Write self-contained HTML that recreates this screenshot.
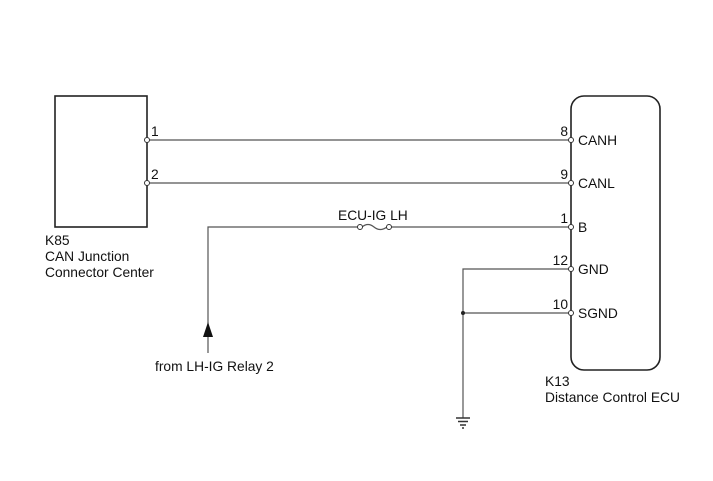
<!DOCTYPE html>
<html><head><style>body{margin:0;background:#fff}svg{display:block}text{font-family:"Liberation Sans",Arial,sans-serif;font-size:13.8px;fill:#111}</style></head><body>
<svg width="713" height="481" viewBox="0 0 713 481" xmlns="http://www.w3.org/2000/svg">
<g fill="none" stroke="#222" stroke-width="1.6">
<rect x="55" y="96" width="92" height="131"/>
<rect x="571" y="96" width="89" height="274" rx="13"/>
</g>
<g stroke="#555" stroke-width="1.2" fill="none">
<line x1="147" y1="140" x2="571" y2="140"/>
<line x1="147" y1="183" x2="571" y2="183"/>
<polyline points="208,353 208,227 359,227"/>
<line x1="390" y1="227" x2="571" y2="227"/>
<path d="M362,227 q6,-5 12,0 t13,0"/>
<polyline points="571,269 463,269 463,418"/>
<line x1="463" y1="313" x2="571" y2="313"/>
</g>
<g stroke="#333" stroke-width="1.5">
<line x1="456" y1="418" x2="470" y2="418"/>
<line x1="458" y1="421.5" x2="468" y2="421.5"/>
<line x1="460" y1="425" x2="466" y2="425"/>
<line x1="462" y1="428" x2="464" y2="428"/>
</g>
<polygon points="208,322 203,337 213,337" fill="#111"/>
<circle cx="463" cy="313" r="2" fill="#222"/>
<g fill="#fff" stroke="#333" stroke-width="1">
<circle cx="147" cy="140" r="2.5"/><circle cx="147" cy="183" r="2.5"/>
<circle cx="571" cy="140" r="2.5"/><circle cx="571" cy="183" r="2.5"/>
<circle cx="571" cy="227" r="2.5"/><circle cx="571" cy="269" r="2.5"/>
<circle cx="571" cy="313" r="2.5"/>
<circle cx="360" cy="227" r="2.5"/><circle cx="389" cy="227" r="2.5"/>
</g>
<text x="151" y="136">1</text><text x="151" y="179">2</text>
<g text-anchor="end"><text x="568" y="136">8</text><text x="568" y="179">9</text><text x="568" y="223">1</text><text x="568" y="265">12</text><text x="568" y="309">10</text></g>
<text x="578" y="145">CANH</text><text x="578" y="188">CANL</text><text x="578" y="232">B</text><text x="578" y="274">GND</text><text x="578" y="318">SGND</text>
<text x="338" y="220">ECU-IG LH</text>
<text x="155" y="371">from LH-IG Relay 2</text>
<text x="45" y="245">K85</text><text x="45" y="261">CAN Junction</text><text x="45" y="277">Connector Center</text>
<text x="545" y="386">K13</text><text x="545" y="402">Distance Control ECU</text>
</svg>
</body></html>
